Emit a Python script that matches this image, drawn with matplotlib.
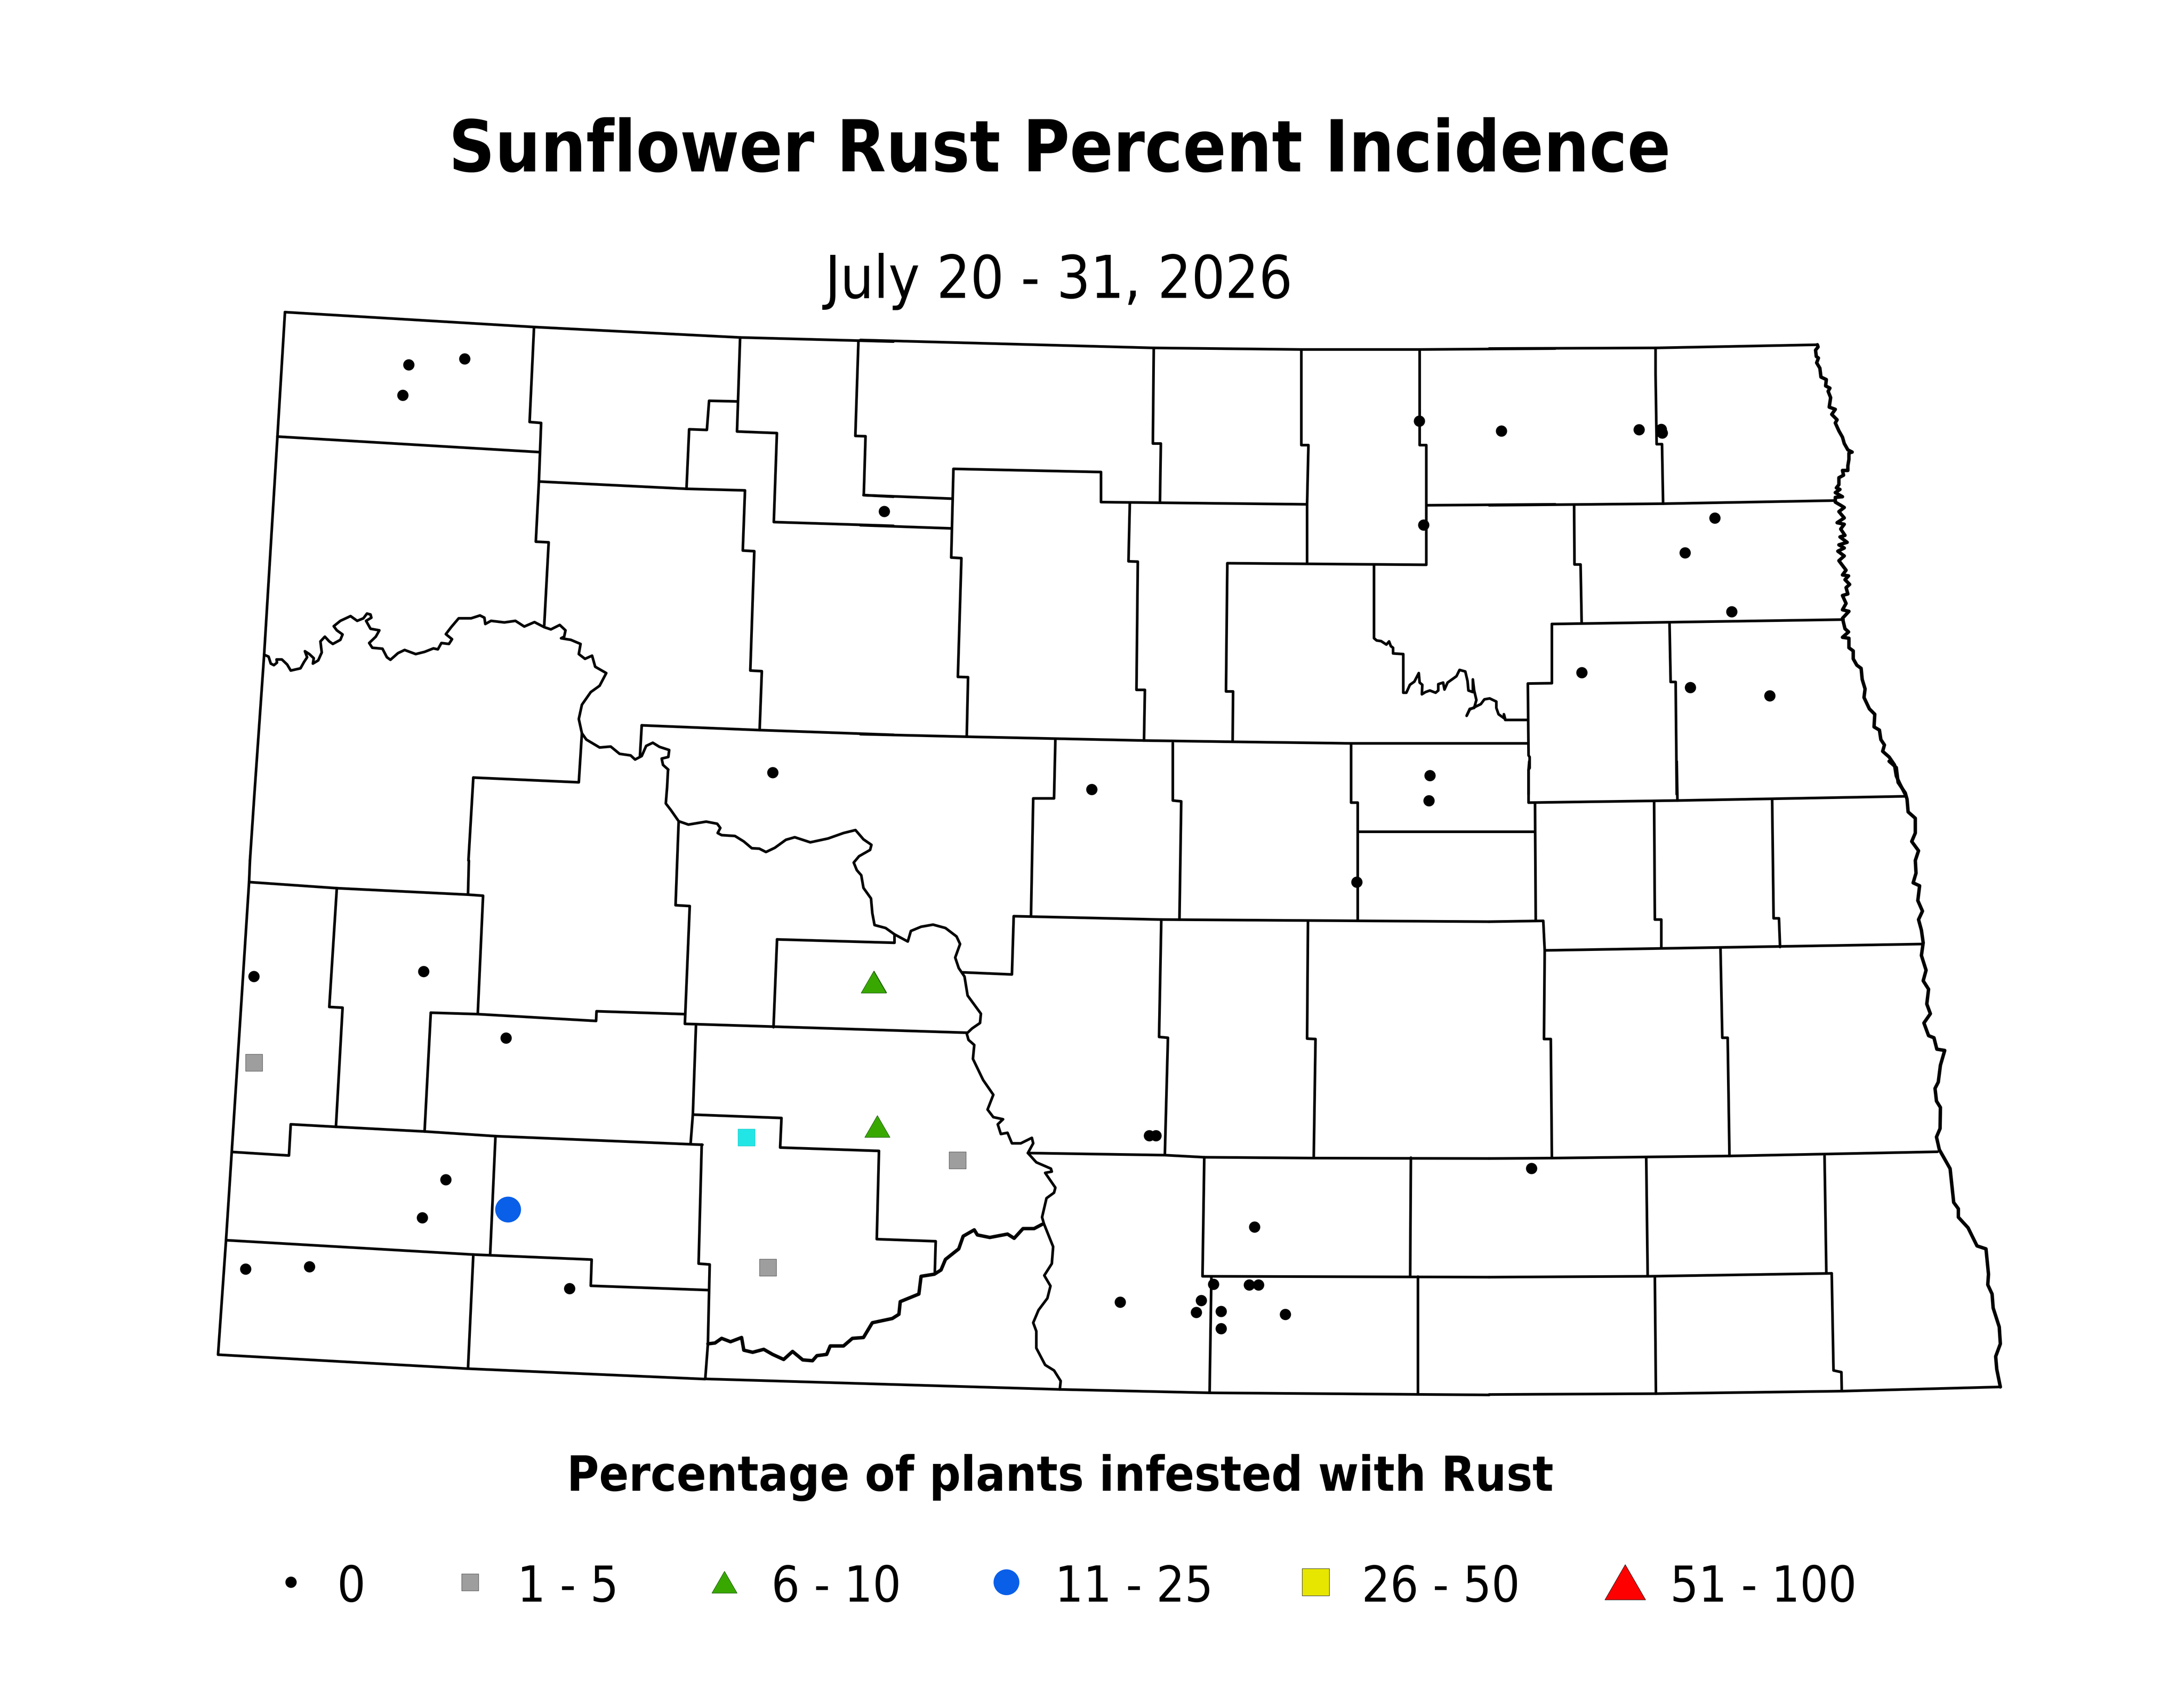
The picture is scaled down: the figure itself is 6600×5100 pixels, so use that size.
# -*- coding: utf-8 -*-
"""Sunflower rust incidence map: county outlines plus survey points."""

import numpy as np
import matplotlib
matplotlib.use("Agg")
import matplotlib.pyplot as plt
from matplotlib.path import Path

# Regions of the source image the traced coordinates were read from
# (left, top, width, height); every traced region is a 1568 unit square.
CROP_A = (600, 900, 2100, 1500)
CROP_B = (2600, 900, 2100, 1500)
CROP_C = (4500, 900, 1700, 1500)
CROP_D = (600, 2600, 2100, 1700)
CROP_E = (2000, 2300, 2100, 2000)
CROP_F = (4500, 2300, 1700, 2000)

# =========================
#  MAP LINES
# =========================
LINES_A = [
    [(195, 45), (757, 92), (1222, 125), (1489, 135), (1568, 138)],
    [(195, 45), (178, 438), (148, 1127), (126, 1568), (116, 1777)],
    [(757, 92), (747, 392), (773, 395), (768, 580), (761, 770), (790, 772), (780, 1035)],
    [(178, 438), (768, 487)],
    [(768, 580), (1101, 603), (1233, 608), (1228, 798), (1254, 800), (1245, 1177), (1271, 1179), (1266, 1365)],
    [(1222, 125), (1215, 422), (1305, 427), (1298, 708), (1568, 720)],
    [(1215, 327), (1152, 325), (1147, 417), (1107, 415), (1101, 603)],
    [(1489, 135), (1482, 436), (1505, 437), (1501, 623), (1568, 628)],
    [(1000, 1350), (1265, 1365), (1568, 1380)],
    [(1000, 1350), (996, 1447)],
    [(620, 1515), (858, 1530), (865, 1375)],
    [(620, 1515), (609, 1777)],
]
MISSOURI_UPPER = [
    (148, 1127), (158, 1133), (163, 1155), (170, 1160), (177, 1152), (176, 1142), (188, 1142),
    (200, 1158), (208, 1177), (230, 1170), (238, 1150), (245, 1135), (240, 1116), (250, 1125),
    (260, 1138), (258, 1155), (270, 1145), (278, 1120), (275, 1085), (285, 1070), (295, 1085),
    (303, 1093), (320, 1080), (325, 1063), (312, 1050), (305, 1037), (320, 1020), (343, 1005),
    (358, 1020), (372, 1012), (380, 997), (388, 1000), (390, 1010), (378, 1020), (388, 1045),
    (408, 1050), (400, 1070), (385, 1090), (392, 1105), (415, 1108), (425, 1135), (433, 1143),
    (450, 1122), (465, 1112), (490, 1125), (510, 1118), (530, 1107), (540, 1110), (548, 1090),
    (565, 1093), (572, 1078), (558, 1062), (570, 1040), (587, 1012), (615, 1012), (635, 1003),
    (645, 1010), (647, 1030), (660, 1020), (690, 1025), (715, 1020), (735, 1038), (758, 1024),
    (780, 1040), (795, 1047), (815, 1033), (828, 1050), (825, 1070), (818, 1075), (840, 1080),
    (862, 1093), (858, 1125), (872, 1140), (888, 1130), (895, 1165), (920, 1185), (905, 1225),
    (885, 1245), (865, 1285), (858, 1330), (865, 1375), (875, 1395), (905, 1420), (930, 1417),
    (950, 1440), (975, 1445), (985, 1458), (1000, 1447), (1010, 1415), (1025, 1405), (1040, 1418),
    (1062, 1428), (1060, 1450), (1045, 1455), (1048, 1475), (1060, 1490),
]

LINES_B = [
    [(0, 133), (662, 158), (995, 163), (1262, 163), (1568, 160)],
    [(7, 623), (205, 634)],
    [(0, 718), (205, 728)],
    [(662, 158), (660, 460), (678, 460), (676, 645)],
    [(995, 163), (995, 465), (1011, 465), (1008, 652), (1008, 838)],
    [(1262, 163), (1262, 465), (1277, 465), (1277, 843), (828, 838), (825, 1243), (841, 1243), (840, 1402)],
    [(1279, 655), (1568, 652)],
    [(205, 820), (210, 540), (543, 550), (543, 645), (1008, 652)],
    [(205, 820), (228, 822), (220, 1197), (243, 1198), (240, 1386)],
    [(608, 648), (605, 832), (626, 833), (623, 1238), (642, 1238), (640, 1398)],
    [(0, 1378), (240, 1386), (640, 1398), (840, 1402), (1107, 1407), (1505, 1407)],
]
DEVILS_LAKE = [
    (1159, 843), (1159, 1075), (1165, 1082), (1175, 1084), (1187, 1095), (1193, 1085), (1197, 1100),
    (1202, 1105), (1202, 1123), (1225, 1125), (1225, 1247), (1232, 1247), (1240, 1222), (1250, 1212),
    (1260, 1185), (1262, 1215), (1268, 1222), (1267, 1252), (1275, 1245), (1285, 1240), (1298, 1247),
    (1304, 1240), (1304, 1220), (1315, 1215), (1318, 1237), (1325, 1215), (1345, 1195), (1352, 1175),
    (1365, 1180), (1370, 1210), (1372, 1240), (1382, 1245), (1382, 1205), (1385, 1240), (1390, 1270),
    (1385, 1295), (1375, 1298), (1368, 1320), (1375, 1300), (1400, 1283), (1408, 1268), (1420, 1265),
    (1435, 1275), (1435, 1295), (1440, 1315), (1455, 1330), (1452, 1315), (1455, 1333), (1505, 1333),
]

LINES_C = [
    [(0, 160), (464, 158), (915, 148)],
    [(464, 158), (464, 240), (467, 462), (482, 462), (485, 650)],
    [(0, 655), (485, 650), (965, 640)],
    [(237, 655), (238, 842), (255, 842), (258, 1027)],
    [(175, 1030), (988, 1016)],
    [(175, 1030), (175, 1217), (108, 1218), (110, 1445), (113, 1450), (113, 1485), (110, 1490), (110, 1568)],
    [(503, 1030), (506, 1213), (520, 1213), (523, 1568)],
]
RED_RIVER_NORTH = [
    (915, 148), (917, 155), (910, 165), (912, 185), (918, 190), (913, 205), (922, 222), (925, 250),
    (940, 258), (938, 278), (950, 285), (945, 295), (952, 315), (948, 345), (965, 352), (955, 368),
    (970, 385), (965, 395), (975, 420), (985, 440), (990, 460), (1000, 480), (1012, 487), (1003, 490),
    (1003, 510), (1000, 530), (1000, 545), (985, 545), (988, 560), (975, 568), (975, 590), (968, 600),
    (978, 605), (965, 615), (985, 628), (965, 630), (965, 645), (980, 655), (990, 662), (975, 675),
    (990, 695), (970, 710), (990, 715), (980, 730), (992, 750), (978, 755), (998, 772), (975, 780),
    (990, 790), (972, 800), (990, 815), (975, 830), (995, 860), (985, 875), (1002, 878), (992, 890),
    (1005, 905), (995, 915), (1000, 935), (985, 940), (995, 965), (985, 985), (1003, 990), (985, 1012),
    (992, 1045), (1002, 1055), (985, 1072), (1003, 1075), (1003, 1105), (1015, 1115), (1015, 1140),
    (1025, 1160), (1037, 1170), (1040, 1205), (1048, 1235), (1045, 1262), (1060, 1298), (1075, 1315),
    (1073, 1355), (1088, 1365), (1092, 1395), (1102, 1412), (1097, 1432), (1115, 1450), (1130, 1475),
    (1135, 1510), (1145, 1535), (1160, 1568),
]

LINES_D = [
    [(116, 0), (114, 60), (75, 810), (62, 1058), (44, 1377), (608, 1416), (1143, 1445)],
    [(114, 60), (312, 77), (608, 95), (642, 98), (630, 428)],
    [(610, 0), (608, 95)],
    [(312, 77), (295, 408), (325, 410), (310, 742)],
    [(524, 424), (630, 428), (897, 447), (898, 420), (1097, 428)],
    [(524, 424), (510, 755)],
    [(75, 812), (204, 822), (208, 735), (310, 742), (510, 755), (670, 768), (1137, 792)],
    [(670, 768), (658, 1098)],
    [(62, 1058), (620, 1098), (887, 1112), (885, 1185), (1150, 1197)],
    [(620, 1098), (608, 1416)],
]

LINES_E = [
    [(98, 1463), (900, 1488), (1236, 1496), (1867, 1501)],
    [(38, 142), (31, 341), (63, 343), (52, 622), (688, 643)],
    [(260, 422), (525, 430), (525, 410)],
    [(260, 422), (252, 630)],
    [(679, 500), (790, 505), (794, 367), (1127, 375), (1867, 380)],
    [(888, -51), (885, 88), (838, 88), (833, 367)],
    [(1153, -43), (1153, 93), (1172, 95), (1168, 375)],
    [(1555, -42), (1555, 98), (1570, 98), (1570, 378)],
    [(1127, 375), (1122, 653), (1142, 655), (1135, 933)],
    [(1458, 378), (1456, 657), (1475, 658), (1471, 938)],
    [(826, 928), (1135, 933), (1224, 938), (1471, 940), (1867, 941)],
    [(1224, 938), (1220, 1220), (1867, 1222)],
    [(1240, 1222), (1236, 1496)],
    [(77, 627), (70, 837), (65, 905)],
    [(70, 837), (270, 845), (267, 915), (490, 923), (485, 1132), (618, 1137), (616, 1210)],
    [(90, 908), (83, 1190), (108, 1192), (104, 1380), (98, 1463)],
]
MISSOURI_LOWER = [
    (14, 20), (12, 60), (9, 100), (20, 115), (38, 142), (60, 150), (100, 143), (125, 148), (132, 158),
    (126, 170), (135, 175), (165, 177), (185, 190), (203, 206), (220, 207), (235, 215), (255, 205),
    (280, 186), (300, 180), (335, 192), (375, 183), (410, 170), (437, 163), (455, 185), (473, 198),
    (470, 210), (445, 225), (433, 240), (440, 258), (450, 270), (455, 300), (472, 325), (475, 360),
    (480, 388), (505, 395), (525, 410), (555, 427), (562, 402), (585, 392), (612, 387), (640, 395),
    (665, 415), (673, 433), (662, 465), (670, 490), (683, 510), (690, 555), (720, 598), (718, 620),
    (700, 633), (688, 645), (692, 660), (705, 672), (702, 705), (725, 755), (748, 790), (735, 825),
    (748, 843), (770, 848), (758, 860), (765, 883), (780, 880), (790, 905), (810, 905), (835, 892),
    (838, 905), (826, 928), (845, 950), (878, 965), (880, 972), (865, 975), (888, 1010), (885, 1022),
    (868, 1035), (858, 1080), (862, 1095), (883, 1150), (880, 1190), (863, 1218), (877, 1243),
    (870, 1272), (850, 1300), (838, 1330), (845, 1350), (845, 1390), (865, 1430), (885, 1443),
    (900, 1468), (898, 1488),
]
CANNONBALL = [
    (104, 1380), (120, 1378), (135, 1367), (155, 1375), (180, 1365), (185, 1395), (205, 1400),
    (230, 1393), (250, 1405), (275, 1417), (295, 1398), (318, 1418), (340, 1420), (350, 1408),
    (372, 1405), (380, 1385), (410, 1385), (430, 1367), (455, 1365), (475, 1330), (520, 1320),
    (535, 1310), (538, 1280), (580, 1262), (585, 1220), (615, 1215), (630, 1205), (640, 1180),
    (670, 1155), (680, 1125), (705, 1110), (712, 1122), (740, 1128), (780, 1120), (795, 1130),
    (815, 1107), (840, 1107), (858, 1097),
]

LINES_F = [
    [(0, 1500), (465, 1498), (983, 1492), (1426, 1482)],
    [(112, 0), (110, 20), (110, 98), (525, 93), (1163, 83)],
    [(523, 0), (525, 93)],
    [(128, 98), (130, 378)],
    [(-365, 167), (127, 167)],
    [(0, 380), (151, 378), (155, 448), (153, 658), (172, 658), (175, 940)],
    [(155, 448), (1205, 433)],
    [(460, 96), (462, 375), (480, 375), (480, 443)],
    [(789, 92), (793, 372), (808, 372), (811, 440)],
    [(645, 445), (650, 655), (665, 655), (670, 935)],
    [(0, 941), (175, 940), (670, 935), (1250, 925)],
    [(438, 940), (442, 1218)],
    [(935, 935), (940, 1213)],
    [(0, 1222), (442, 1220), (955, 1213)],
    [(462, 1220), (465, 1498)],
    [(955, 1213), (960, 1443), (982, 1447), (983, 1492)],
    [(-218, 939), (-220, 1221)],
    [(-198, 1221), (-198, 1500)],
]
RED_RIVER_SOUTH = [
    (1115, 0), (1135, 15), (1140, 50), (1160, 75), (1165, 90), (1168, 120), (1188, 135), (1188, 170),
    (1178, 190), (1197, 212), (1188, 235), (1190, 265), (1182, 288), (1200, 295), (1195, 330),
    (1208, 355), (1197, 375), (1205, 400), (1210, 430), (1205, 460), (1218, 495), (1210, 520),
    (1225, 540), (1220, 575), (1230, 598), (1212, 620), (1225, 650), (1240, 655), (1248, 682),
    (1270, 685), (1258, 720), (1252, 760), (1243, 775), (1247, 805), (1258, 820), (1257, 870),
    (1247, 890), (1255, 920), (1285, 965), (1295, 1045), (1308, 1060), (1308, 1080), (1335, 1105),
    (1360, 1148), (1385, 1155), (1392, 1215), (1390, 1240), (1402, 1262), (1405, 1295), (1422, 1340),
    (1425, 1380), (1412, 1410), (1415, 1440), (1425, 1482),
]

# =========================
#  SURVEY POINTS
# =========================
ZERO_A = [(474, 211), (600, 192), (461, 307), (1547, 674)]
ZERO_B = [(1261, 389), (1271, 717), (1285, 1508), (1283, 1588)]
ZERO_C = [(34, 420), (418, 416), (480, 415), (482, 427), (629, 695), (546, 805), (676, 991),
          (258, 1183), (561, 1230), (782, 1257)]
ZERO_D = [(125, 323), (508, 309), (694, 494), (558, 889), (505, 995), (106, 1138), (250, 1132), (837, 1193)]
ZERO_E = [(250, 27), (970, 67), (1568, 286), (1100, 887), (1115, 887), (1034, 1281), (1337, 1103),
          (1245, 1239), (1325, 1240), (1346, 1240), (1217, 1277), (1206, 1305), (1262, 1303),
          (1262, 1344), (1407, 1310)]
ZERO_F = [(118, 964)]
LOW_D = [(125, 563), (1284, 1134)]
LOW_E = [(667, 945)]
MID_D = [(1524, 338)]
MID_E = [(478, 523), (486, 865)]
HIGH_D = [(698, 972)]
CYAN_D = [(1236, 771)]

# =========================
#  TEXT AND LEGEND
# =========================
TITLE = "Sunflower Rust Percent Incidence"
SUBTITLE = "July 20 - 31, 2026"
LEGEND_TITLE = "Percentage of plants infested with Rust"
LEGEND_LABELS = ["0", "1 - 5", "6 - 10", "11 - 25", "26 - 50", "51 - 100"]
LEGEND_MARKER_X = [879, 1420, 2189, 3041, 3976, 4911]
LEGEND_TEXT_X = [1018, 1563, 2331, 3188, 4115, 5047]

FONT = "DejaVu Sans"
PX = 72 / 300  # points per output pixel
TRIANGLE = Path([(-0.5, -0.433), (0.5, -0.433), (0, 0.433), (-0.5, -0.433)], closed=True)


def crop_to_px(points, crop):
    """Convert coordinates read in a crop to output image pixels."""
    left, top, width, height = crop
    arr = np.array(points, dtype=float)
    return left + arr[:, 0] * width / 1568, top + arr[:, 1] * height / 1568


def draw_lines(ax, lines, crop, lw=1.92):
    for line in lines:
        x, y = crop_to_px(line, crop)
        ax.plot(x, y, color="black", lw=lw, solid_joinstyle="round", solid_capstyle="round", zorder=2)


def draw_points(ax, groups, **style):
    for points, crop in groups:
        x, y = crop_to_px(points, crop)
        ax.plot(x, y, linestyle="none", zorder=3, **style)


fig = plt.figure(figsize=(22, 17), dpi=300)
ax = fig.add_axes([0, 0, 1, 1])
ax.set_xlim(0, 6600)
ax.set_ylim(5100, 0)
ax.axis("off")

for lines, crop in [(LINES_A, CROP_A), (LINES_B, CROP_B), (LINES_C, CROP_C),
                    (LINES_D, CROP_D), (LINES_E, CROP_E), (LINES_F, CROP_F)]:
    draw_lines(ax, lines, crop)
for river, crop in [(MISSOURI_UPPER, CROP_A), (DEVILS_LAKE, CROP_B), (MISSOURI_LOWER, CROP_E)]:
    draw_lines(ax, [river], crop)
# These stretches wiggle finer than the trace, a heavier line stands in for that
for river, crop in [(RED_RIVER_NORTH, CROP_C), (CANNONBALL, CROP_E), (RED_RIVER_SOUTH, CROP_F)]:
    draw_lines(ax, [river], crop, lw=2.5)

# Point classes
zero_style = dict(marker="o", ms=34 * PX, mfc="black", mec="black", mew=0)
low_style = dict(marker="s", ms=51 * PX, mfc="#9E9E9E", mec="#555555", mew=0.35)
cyan_style = dict(marker="s", ms=51 * PX, mfc="#22E6E6", mec="#22C8C8", mew=0.35)
mid_style = dict(marker=TRIANGLE, ms=76 * PX, mfc="#38A800", mec="#1E5C00", mew=0.35)
high_style = dict(marker="o", ms=78 * PX, mfc="#0A5FE8", mec="#0A5FE8", mew=0)
yellow_style = dict(marker="s", ms=82 * PX, mfc="#E6E600", mec="#333333", mew=0.35)
red_style = dict(marker=TRIANGLE, ms=123 * PX, mfc="#FF0000", mec="#222222", mew=0.35)

draw_points(ax, [(ZERO_A, CROP_A), (ZERO_B, CROP_B), (ZERO_C, CROP_C), (ZERO_D, CROP_D),
                 (ZERO_E, CROP_E), (ZERO_F, CROP_F)], **zero_style)
draw_points(ax, [(LOW_D, CROP_D), (LOW_E, CROP_E)], **low_style)
draw_points(ax, [(CYAN_D, CROP_D)], **cyan_style)
draw_points(ax, [(MID_D, CROP_D), (MID_E, CROP_E)], **mid_style)
draw_points(ax, [(HIGH_D, CROP_D)], **high_style)

# Titles
ax.text(3202, 518, TITLE, ha="center", va="baseline", family=FONT, stretch="condensed",
        weight="bold", fontsize=51.7)
ax.text(3199, 900, SUBTITLE, ha="center", va="baseline", family=FONT, stretch="condensed", fontsize=42.7)
ax.text(3204, 4504, LEGEND_TITLE, ha="center", va="baseline", family=FONT, stretch="condensed",
        weight="bold", fontsize=35.4)

# Legend row
legend_styles = [zero_style, low_style, mid_style, high_style, yellow_style, red_style]
for mx, tx, label, style in zip(LEGEND_MARKER_X, LEGEND_TEXT_X, LEGEND_LABELS, legend_styles):
    ax.plot([mx], [4780], linestyle="none", zorder=3, **style)
    ax.text(tx, 4839, label, ha="left", va="baseline", family=FONT, stretch="condensed", fontsize=36)

fig.savefig("out.png", dpi=300)
plt.close(fig)
